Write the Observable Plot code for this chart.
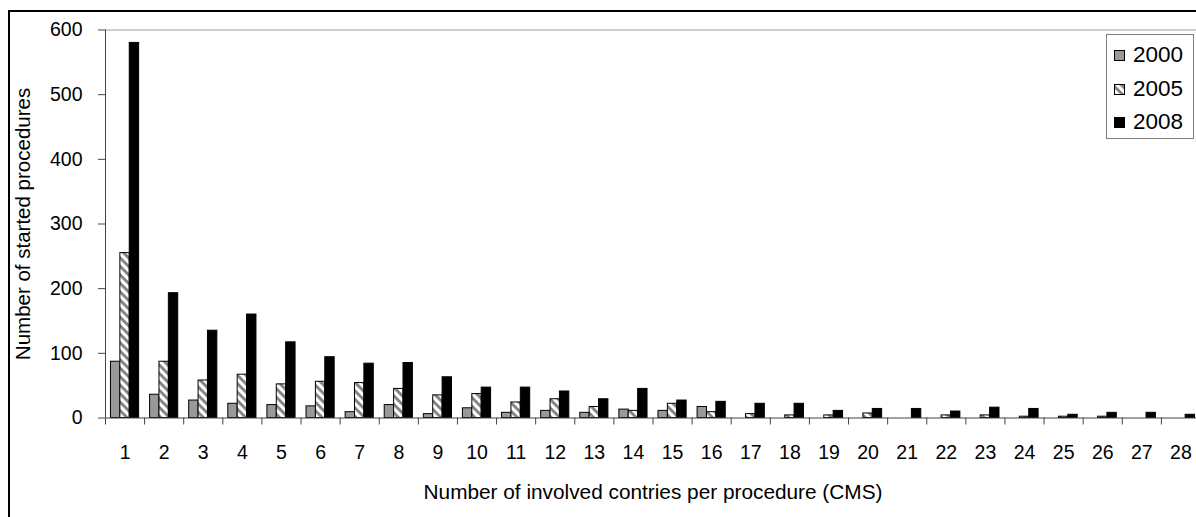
<!DOCTYPE html>
<html><head><meta charset="utf-8">
<script src="https://cdn.jsdelivr.net/npm/d3@7"></script>
<script src="https://cdn.jsdelivr.net/npm/@observablehq/plot@0.6"></script>
<style>
html,body{margin:0;padding:0;background:#fff;}
#wrap{position:relative;width:1196px;height:517px;overflow:hidden;font-family:"Liberation Sans",Arial,sans-serif;}
#frame{position:absolute;left:8px;top:10px;width:1300px;height:600px;border-left:2px solid #000;border-top:2px solid #000;}
#chart{position:absolute;left:0;top:0;width:1210px;height:517px;}
#chart svg{max-width:none !important;}
#legend{position:absolute;left:1106px;top:34px;width:88px;height:105px;border:1px solid #808080;background:#fff;box-sizing:border-box;}
.item{position:absolute;left:7px;height:26px;display:flex;align-items:center;font-size:22.5px;color:#000;}
.item svg{margin-right:8px;}
</style></head>
<body><div id="wrap"><div id="frame"></div><div id="chart"></div><div id="legend"></div></div>
<script>
const categories = [1,2,3,4,5,6,7,8,9,10,11,12,13,14,15,16,17,18,19,20,21,22,23,24,25,26,27,28];
const years = ["2000","2005","2008"];
const v2000 = [87,36,27,22,20,18,9,20,6,15,8,11,8,13,11,17,0,0,0,0,0,0,0,0,0,0,0,0];
const v2005 = [255,87,58,67,52,56,54,45,35,37,24,29,17,11,22,9,6,4,4,7,0,4,4,2,2,2,0,0];
const v2008 = [580,193,135,160,117,94,84,85,63,47,47,41,29,45,27,25,22,22,11,14,14,10,16,14,5,8,8,5];
const yTicks = [0,100,200,300,400,500,600];
const xTitle = "Number of involved contries per procedure (CMS)";
const yTitle = "Number of started procedures";
const fills = ["#999999","url(#hatch2005)","#000000"];

const series = [v2000, v2005, v2008];
const rows = [];
years.forEach((yr, i) => categories.forEach((c, j) => {
  if (series[i][j] > 0) rows.push({cat: c, year: yr, idx: i, value: series[i][j]});
}));
const bounds = [categories[0] - 0.5, ...categories.map(c => c + 0.5)];
const barW = 0.24, groupHalf = 0.36;

const chart = Plot.plot({
  width: 1210, height: 517,
  marginLeft: 105, marginRight: 10, marginTop: 29.5, marginBottom: 99.5,
  style: {fontFamily: "'Liberation Sans', Arial, sans-serif", fontSize: "19.5px", color: "#000", background: "transparent", maxWidth: "none"},
  x: {domain: [bounds[0], bounds[bounds.length - 1]]},
  y: {domain: [yTicks[0], yTicks[yTicks.length - 1]]},
  color: {domain: years, range: fills},
  marks: [
    Plot.ruleY([yTicks[yTicks.length - 1]], {stroke: "#a0a0a0", strokeWidth: 1}),
    Plot.rectY(rows, {
      x1: d => d.cat - groupHalf + d.idx * barW,
      x2: d => d.cat - groupHalf + (d.idx + 1) * barW,
      y1: 0, y2: "value", fill: "year", stroke: "#000", strokeWidth: 1
    }),
    Plot.ruleX([bounds[0]], {stroke: "#444"}),
    Plot.ruleY([0], {stroke: "#444"}),
    Plot.axisY({ticks: yTicks, tickSize: 7, tickPadding: 16, label: null, stroke: "#444"}),
    Plot.axisX({ticks: categories, tickSize: 0, tickPadding: 27, label: null}),
    Plot.axisX({ticks: bounds, tickSize: 7, tickFormat: () => "", label: null, stroke: "#444"}),
    Plot.text([xTitle], {text: d => d, frameAnchor: "bottom", dy: 74, fontSize: 20.8, lineAnchor: "middle"}),
    Plot.text([yTitle], {text: d => d, frameAnchor: "left", dx: -82, rotate: -90, fontSize: 20.5, lineAnchor: "middle", textAnchor: "middle"})
  ]
});

const defs = d3.select(chart).insert("defs", ":first-child");
const pat = defs.append("pattern").attr("id", "hatch2005").attr("patternUnits", "userSpaceOnUse")
  .attr("width", 6).attr("height", 6).attr("patternTransform", "rotate(45)");
pat.append("rect").attr("width", 6).attr("height", 6).attr("fill", "#fff");
pat.append("rect").attr("width", 6).attr("height", 2.8).attr("fill", "#808080");
chart.style.maxWidth = "none";
document.getElementById("chart").appendChild(chart);

const legend = document.getElementById("legend");
const rowTops = [7, 41, 74];
years.forEach((yr, i) => {
  const it = document.createElement("div");
  it.className = "item";
  it.style.top = rowTops[i] + "px";
  it.innerHTML = `<svg width="11" height="11"><rect x="0.5" y="0.5" width="10" height="10" fill="${fills[i]}" stroke="#000"/></svg><span>${yr}</span>`;
  legend.appendChild(it);
});
</script>
</body></html>
